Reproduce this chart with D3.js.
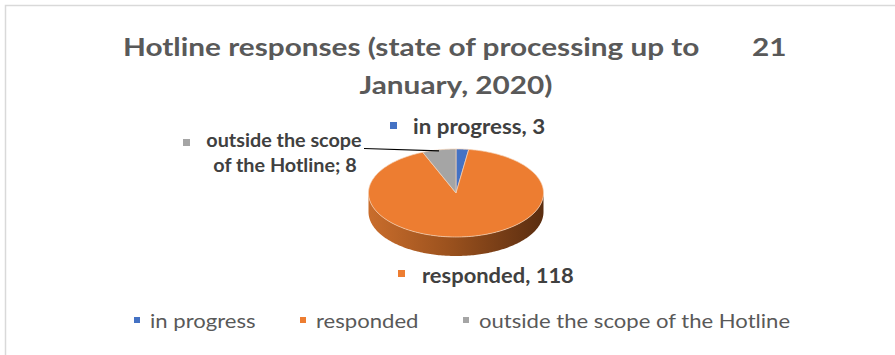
<!DOCTYPE html>
<html>
<head>
<meta charset="utf-8">
<script src="https://cdn.jsdelivr.net/npm/d3@7"></script>
<style>
  html, body { margin: 0; padding: 0; background: #fff; }
  svg { display: block; }
  text { font-family: Lato, "Open Sans", sans-serif; }
</style>
</head>
<body>
<svg id="chart" width="895" height="355"></svg>
<script>
// Hotline responses by processing state
const categories = ["in progress", "responded", "outside the scope of the Hotline"];
const values = [3, 118, 8];
const sliceLabels = ["in progress, 3", "responded, 118", ["outside the scope", "of the Hotline; 8"]];
const colors = ["#4472C4", "#ED7D31", "#A5A5A5"];
const titleLine1 = "Hotline responses (state of processing up to";
const titleDay = "21";
const titleLine2 = "January, 2020)";

const svg = d3.select("#chart");

// text helper: horizontally widened glyphs, anchored at (x, y)
function label(parent, x, y, str, opts = {}) {
  const g = parent.append("g")
    .attr("transform", `translate(${x},${y}) scale(${opts.sx || 1.12},1)`);
  return g.append("text")
    .attr("text-anchor", opts.anchor || "start")
    .attr("font-size", opts.size || 18)
    .attr("font-weight", opts.weight || "normal")
    .attr("fill", opts.fill || "#404040")
    .text(str);
}

// chart frame
svg.append("path")
  .attr("d", "M5.5,360 V5.5 H900")
  .attr("fill", "none")
  .attr("stroke", "#d9d9d9")
  .attr("stroke-width", 1.5);

// title
const titleOpts = { size: 25, weight: "bold", fill: "#595959", sx: 1.19 };
label(svg, 123, 56, titleLine1, titleOpts);
label(svg, 752, 56, titleDay, titleOpts);
label(svg, 456, 94, titleLine2, { ...titleOpts, anchor: "middle" });

// tilted pie geometry
const cx = 456, cy = 193, rx = 87.5, ry = 44, depth = 19;
const pie = d3.pie().sort(null).value(d => d)(values);
const pt = (a, dy = 0) => [cx + rx * Math.sin(a), cy - ry * Math.cos(a) + dy];

function arcPoints(a0, a1, dy = 0) {
  const n = Math.max(2, Math.ceil((a1 - a0) / 0.02));
  return d3.range(n + 1).map(i => pt(a0 + (a1 - a0) * i / n, dy));
}

// side gradient
const defs = svg.append("defs");
const grad = defs.append("linearGradient").attr("id", "side-orange")
  .attr("gradientUnits", "userSpaceOnUse")
  .attr("x1", cx - rx).attr("x2", cx + rx).attr("y1", 0).attr("y2", 0);
grad.append("stop").attr("offset", "0%").attr("stop-color", "#c96d2c");
grad.append("stop").attr("offset", "45%").attr("stop-color", "#9c521e");
grad.append("stop").attr("offset", "100%").attr("stop-color", "#5a2d10");

const line = d3.line();

// visible side walls (front half of the ellipse)
pie.forEach((d, i) => {
  const a0 = Math.max(d.startAngle, Math.PI / 2);
  const a1 = Math.min(d.endAngle, 3 * Math.PI / 2);
  if (a1 <= a0) return;
  const top = arcPoints(a0, a1);
  const bottom = arcPoints(a0, a1, depth).reverse();
  const fill = i === 1 ? "url(#side-orange)" : d3.color(colors[i]).darker(1.2);
  svg.append("path").attr("d", line(top.concat(bottom)) + "Z").attr("fill", fill);
});

// top faces
pie.forEach((d, i) => {
  const pts = [[cx, cy]].concat(arcPoints(d.startAngle, d.endAngle));
  svg.append("path")
    .attr("d", line(pts) + "Z")
    .attr("fill", colors[i])
    .attr("stroke", "#f4d2b8")
    .attr("stroke-width", 0.7)
    .attr("stroke-linejoin", "round");
});

// data labels
const lab = svg.append("g");
const big = { size: 20.5, weight: "bold", sx: 1.09 };
const small = { size: 18, weight: "bold", sx: 1.1, anchor: "middle" };

// in progress
lab.append("rect").attr("x", 390).attr("y", 122).attr("width", 7).attr("height", 7).attr("fill", colors[0]);
label(lab, 413, 134, sliceLabels[0], big);

// responded
lab.append("rect").attr("x", 398).attr("y", 270).attr("width", 7).attr("height", 7).attr("fill", colors[1]);
label(lab, 422, 283, sliceLabels[1], { ...big, sx: 1.07 });

// outside the scope
lab.append("rect").attr("x", 183).attr("y", 139).attr("width", 7).attr("height", 7).attr("fill", colors[2]);
label(lab, 284, 147, sliceLabels[2][0], small);
label(lab, 285, 172, sliceLabels[2][1], small);

// leader line to the grey slice
const grey = pie[2];
const anchor = pt((grey.startAngle + grey.endAngle) / 2);
svg.append("line")
  .attr("x1", 364).attr("y1", 148.5)
  .attr("x2", anchor[0]).attr("y2", anchor[1] + 1)
  .attr("stroke", "#000").attr("stroke-width", 1.2);

// legend
const legendX = [134, 300, 463];
const leg = svg.append("g");
categories.forEach((c, i) => {
  leg.append("rect").attr("x", legendX[i]).attr("y", 317).attr("width", 6).attr("height", 6).attr("fill", colors[i]);
  label(leg, legendX[i] + 16, 328, c, { size: 20, fill: "#595959", sx: 1.105 });
});
</script>
</body>
</html>
